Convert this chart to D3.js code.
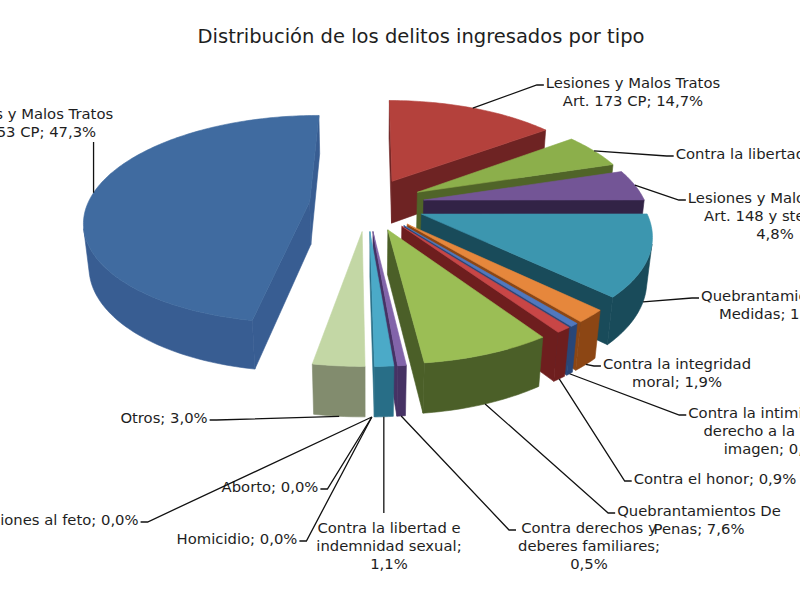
<!DOCTYPE html>
<html>
<head>
<meta charset="utf-8">
<script src="https://cdn.jsdelivr.net/npm/d3@7"></script>
<style>
  body { margin: 0; background: #fff; }
  text { font-family: "DejaVu Sans", Verdana, sans-serif; fill: #1e1e1e; }
</style>
</head>
<body>
<svg id="chart" width="800" height="600"></svg>
<script>
(function() {

/* Data: share of each type of offence (%), in the order of the chart */
var categories = [
  "Lesiones y Malos Tratos|Art. 153 CP",
  "Lesiones y Malos Tratos|Art. 173 CP",
  "Contra la libertad",
  "Lesiones y Malos Tratos|Art. 148 y stes. CP",
  "Quebrantamiento de|Medidas",
  "Contra la integridad|moral",
  "Contra la intimidad y el|derecho a la propia|imagen",
  "Contra el honor",
  "Quebrantamientos De|Penas",
  "Contra derechos y|deberes familiares",
  "Contra la libertad e|indemnidad sexual",
  "Homicidio",
  "Aborto",
  "Lesiones al feto",
  "Otros"
];
var values = [47.3, 14.7, 5.4, 4.8, 12.3, 1.9, 0.5, 0.9, 7.6, 0.5, 1.1, 0.0, 0.0, 0.0, 3.0];
// labels that put the value on a line of its own
var valueOnNewLine = [3, 9, 10];

/* Label placement (centre x, first baseline y) - labels were placed by hand */
var labelX = [26, 633, 764, 775, 778, 677, 775, 715, 699, 589, 389, 237, 270, 57, 164];
var labelY = [119, 88, 159, 203, 301, 369, 418, 484, 516, 533, 533, 544, 492, 525, 423];

/* Colours */
var topColors  = ["#406ba0", "#b4413c", "#8caf4b", "#735596", "#3c96af", "#e6873c", "#5078be",
                  "#c84646", "#9bbe55", "#8264aa", "#4baac8", "#f79646", "#4f81bd", "#c0504d", "#c3d7a5"];
var sideColors = ["#385d92", "#6e2323", "#506428", "#322346", "#194b5a", "#8c4614", "#284678",
                  "#6e1e1e", "#4b5f28", "#463264", "#286e87", "#b65708", "#2c4d75", "#772c2a", "#828c6e"];

var W = 800, H = 600;
var firstAngle = 190 * Math.PI / 180;   // first slice angle

/* 3D view */
var cx0 = 367, cy0 = 204;         // screen position of the pie centre
var alpha = 27.2 * Math.PI / 180; // elevation
var camDist = 5.26;               // in pie radii
var focal = 1168;
var thick = 0.222;
var explode = 0.26;
var sinA = Math.sin(alpha), cosA = Math.cos(alpha);
var cam = [0, camDist * sinA, camDist * cosA];
var lh = 18;

function project(p) {
  var yc = -p[1] * cosA + p[2] * sinA;
  var zc = -p[2] * cosA - p[1] * sinA;
  var k = focal / (camDist + zc);
  return [cx0 + p[0] * k, cy0 + yc * k];
}
function depth(p) { return -p[2] * cosA - p[1] * sinA; }
function facing(n, p) {
  return n[0] * (cam[0] - p[0]) + n[1] * (cam[1] - p[1]) + n[2] * (cam[2] - p[2]) > 0;
}

var fmt = function(v) { return d3.format(".1f")(v).replace(".", ","); };

var svg = d3.select("#chart");
svg.append("rect").attr("width", W).attr("height", H).attr("fill", "#fff");

svg.append("text")
  .attr("x", 421).attr("y", 43)
  .attr("text-anchor", "middle")
  .style("font-size", "19.5px")
  .text("Distribución de los delitos ingresados por tipo");

var data = values.map(function(v, i) { return {value: v, i: i}; });
var pie = d3.pie().sort(null).value(function(d) { return d.value; })
  .startAngle(firstAngle).endAngle(firstAngle + 2 * Math.PI);
var arcs = pie(data);

var line = d3.line();

function geometry(a) {
  var a0 = a.startAngle, a1 = a.endAngle, m = (a0 + a1) / 2;
  var ox = explode * Math.sin(m), oz = -explode * Math.cos(m);
  var rim = function(t, y) { return [ox + Math.sin(t), y, oz - Math.cos(t)]; };
  return {m: m, rim: rim, v: [ox, 0, oz],
          key: depth([ox + 0.5 * Math.sin(m), 0, oz - 0.5 * Math.cos(m)])};
}

var slices = arcs.map(function(a) {
  var g = geometry(a);
  var i = a.data.i, faces = [];
  var a0 = a.startAngle, a1 = a.endAngle;
  if (a.value > 0) {
    var v0 = g.v, v1 = [g.v[0], -thick, g.v[2]];
    var n = Math.max(2, Math.ceil((a1 - a0) / 0.02));
    var ts = d3.range(n + 1).map(function(k) { return a0 + (a1 - a0) * k / n; });
    faces.push({pts: [v0, g.rim(a0, 0), g.rim(a0, -thick), v1],
                normal: [-Math.cos(a0), 0, -Math.sin(a0)], fill: sideColors[i]});
    faces.push({pts: [v0, g.rim(a1, 0), g.rim(a1, -thick), v1],
                normal: [Math.cos(a1), 0, Math.sin(a1)], fill: sideColors[i]});
    faces = faces.filter(function(f) { return facing(f.normal, f.pts[0]); });

    // outer wall: join the visible strips into runs so no seams show
    var run = null;
    for (var k = 0; k < n; k++) {
      var t = (ts[k] + ts[k + 1]) / 2;
      var vis = facing([Math.sin(t), 0, -Math.cos(t)], g.rim(t, 0));
      if (vis) {
        if (!run) run = [ts[k]];
        run.push(ts[k + 1]);
      }
      if ((!vis || k === n - 1) && run) {
        var topEdge = run.map(function(u) { return g.rim(u, 0); });
        var botEdge = run.slice().reverse().map(function(u) { return g.rim(u, -thick); });
        faces.push({pts: topEdge.concat(botEdge), fill: sideColors[i]});
        run = null;
      }
    }
    faces.push({pts: [v0].concat(ts.map(function(t) { return g.rim(t, 0); })), fill: topColors[i]});
  }
  return {i: i, g: g, faces: faces};
});

var pieLayer = svg.append("g");
slices.slice().sort(function(a, b) { return b.g.key - a.g.key; }).forEach(function(s) {
  pieLayer.append("g").selectAll("path")
    .data(s.faces)
    .join("path")
    .attr("d", function(f) { return line(f.pts.map(project)) + "Z"; })
    .attr("fill", function(f) { return f.fill; })
    .attr("stroke", function(f) { return f.fill; })
    .attr("stroke-width", 0.6)
    .attr("stroke-linejoin", "round");
});

/* Labels and leader lines */
var labelLayer = svg.append("g");
var leaderLayer = svg.append("g");
slices.forEach(function(s) {
  var i = s.i;
  var sep = valueOnNewLine.indexOf(i) >= 0 ? ";|" : "; ";
  var lines = (categories[i] + sep + fmt(values[i]) + "%").split("|");
  var lx = labelX[i], ly = labelY[i];
  var t = labelLayer.append("text")
    .attr("text-anchor", "middle")
    .style("font-size", "14.8px");
  var w = 0;
  lines.forEach(function(l, j) {
    var ts = t.append("tspan").attr("x", lx).attr("y", ly + j * lh).text(l);
    w = Math.max(w, ts.node().getComputedTextLength());
  });
  var box = {left: lx - w / 2, right: lx + w / 2, top: ly - 14, bottom: ly + (lines.length - 1) * lh + 5};

  var m = s.g.m;
  var p = project(s.g.rim(m, Math.cos(m) < 0 ? -thick : 0));
  var pts, y = ly - 3;
  if (p[0] >= box.left && p[0] <= box.right) {
    pts = [p, [p[0], p[1] < box.top ? box.top - 6 : box.bottom]];
  } else if (p[0] < box.left) {
    pts = [p, [box.left - 9, y], [box.left - 2, y]];
  } else {
    pts = [p, [box.right + 9, y], [box.right + 2, y]];
  }
  leaderLayer.append("path")
    .attr("d", line(pts))
    .attr("fill", "none")
    .attr("stroke", "#111")
    .attr("stroke-width", 1.3);
});

})();
</script>
</body>
</html>
